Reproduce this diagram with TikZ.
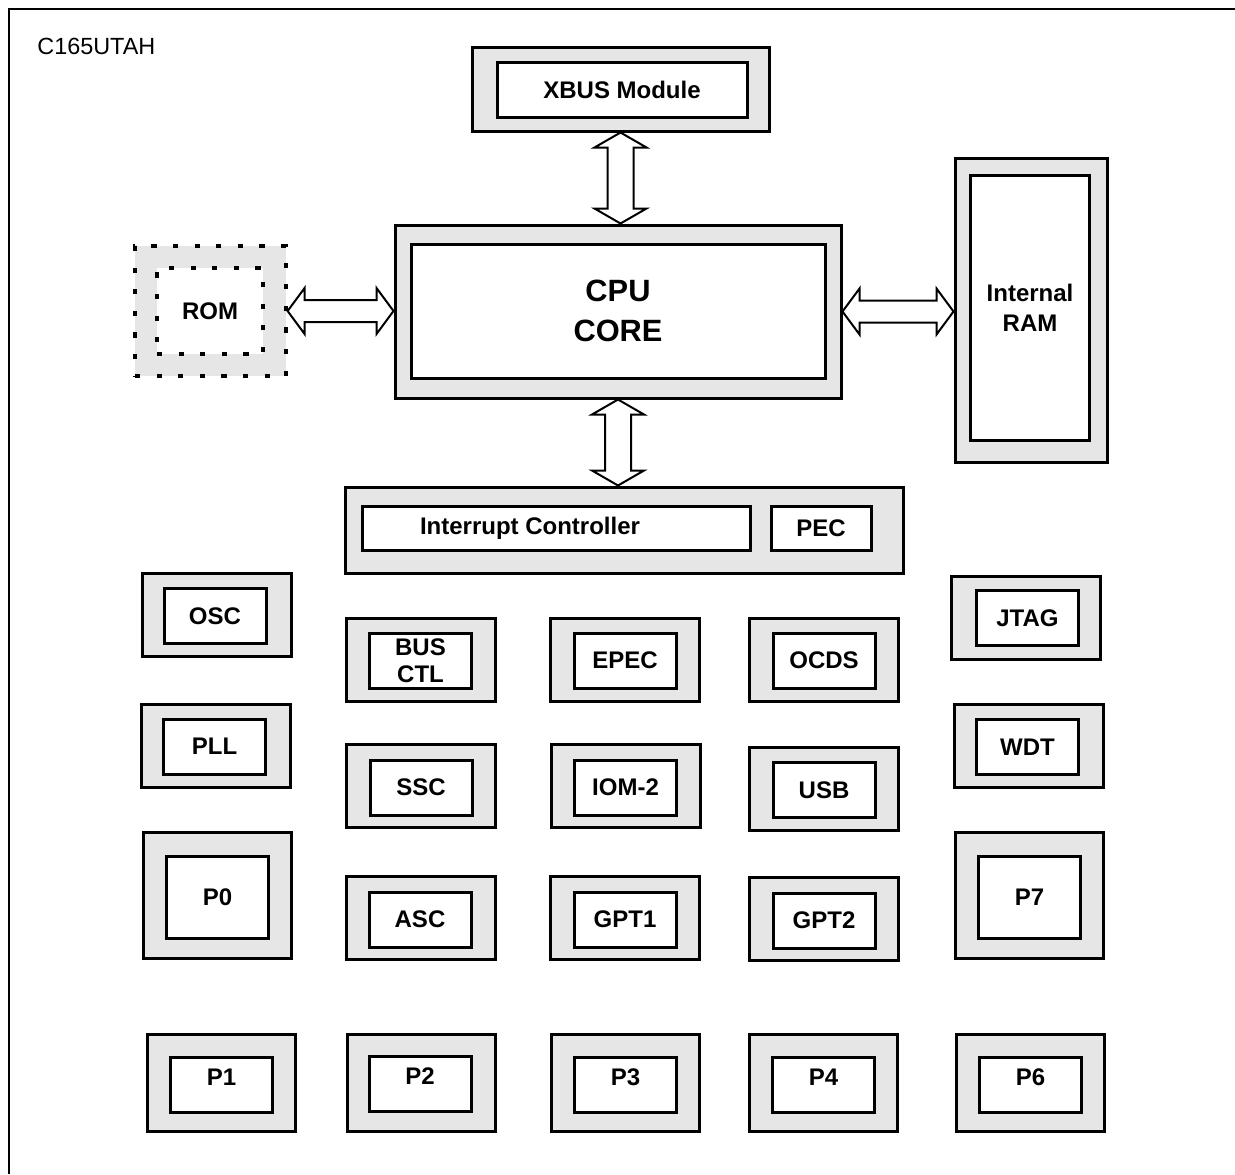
\documentclass[tikz,border=0pt]{standalone}
\usepackage{fontspec}
\setmainfont{Liberation Sans}
\usetikzlibrary{calc, shadows}
\definecolor{modgray}{RGB}{230,230,230}
\tikzset{
  outerbox/.style={rectangle, draw=black, line width=1.5pt, fill=modgray, inner sep=0pt,
    general shadow={fill=black, shadow xshift=0.7pt, shadow yshift=-0.7pt}},
  innerbox/.style={rectangle, draw=black, line width=1.5pt, fill=white, inner sep=0pt,
    align=center, minimum width=51pt, minimum height=27.5pt,
    font=\fontsize{12}{13.5}\selectfont\bfseries},
  modbox/.style={outerbox, minimum width=74.5pt, minimum height=41.5pt},
  portbox/.style={outerbox, minimum width=74pt, minimum height=48.5pt},
  tallbox/.style={outerbox, minimum width=74pt, minimum height=63pt},
  portlabel/.style={innerbox, text depth=8pt},
  dotbox/.style={rectangle, draw=black, line width=1.6pt, dash pattern=on 2.6pt off 8.2pt,
    inner sep=0pt, align=center, font=\fontsize{12}{13.5}\selectfont\bfseries},
  vbus/.style={draw=black, line width=1pt, fill=white, line join=miter, to path={
    let \p1=(\tikztostart), \p2=(\tikztotarget) in
    (\x1,\y1) -- (\x1-13pt,\y1-7.5pt) -- (\x1-6.5pt,\y1-7.5pt) -- (\x1-6.5pt,\y2+7.5pt)
    -- (\x1-13pt,\y2+7.5pt) -- (\x1,\y2) -- (\x1+13pt,\y2+7.5pt) -- (\x1+6.5pt,\y2+7.5pt)
    -- (\x1+6.5pt,\y1-7.5pt) -- (\x1+13pt,\y1-7.5pt) -- cycle}},
  hbus/.style={draw=black, line width=1pt, fill=white, line join=miter, to path={
    let \p1=(\tikztostart), \p2=(\tikztotarget) in
    (\x1,\y1) -- (\x1+8.5pt,\y1+11.5pt) -- (\x1+8.5pt,\y1+5.5pt) -- (\x2-8.5pt,\y1+5.5pt)
    -- (\x2-8.5pt,\y1+11.5pt) -- (\x2,\y1) -- (\x2-8.5pt,\y1-11.5pt) -- (\x2-8.5pt,\y1-5.5pt)
    -- (\x1+8.5pt,\y1-5.5pt) -- (\x1+8.5pt,\y1-11.5pt) -- cycle}},
}

\begin{document}
\begin{tikzpicture}[x=0.5pt, y=-0.5pt]
  \useasboundingbox (0,0) rectangle (1235,1174);
  \draw[line width=1.1pt] (9,1174) |- (1235,9);
  \node[anchor=base west, inner sep=0pt, font=\fontsize{11.7}{13}\selectfont] (title) at (37,54) {C165UTAH};

  % core, memories and bus
  \node[outerbox, minimum width=148.5pt, minimum height=42pt] (xbuso) at (620.5,89) {};
  \node[innerbox, minimum width=125pt] (xbus) at (622,89.5) {XBUS Module};
  \node[outerbox, minimum width=223pt, minimum height=86.5pt] (cpuo) at (618,311.5) {};
  \node[innerbox, minimum width=207pt, minimum height=67pt,
        font=\fontsize{15.4}{20}\selectfont\bfseries] (cpu) at (618,311) {CPU\\CORE};
  \node[dotbox, fill=modgray, minimum width=75.5pt, minimum height=65pt] (romo) at (210.5,311) {};
  \node[dotbox, fill=white, minimum width=53pt, minimum height=43pt] (rom) at (210,311) {ROM};
  \node[outerbox, minimum width=76pt, minimum height=152pt] (ramo) at (1031,310) {};
  \node[innerbox, minimum width=59.5pt, minimum height=132.5pt] (ram) at (1030,307.5) {Internal\\[1.5pt]RAM};
  \node[outerbox, minimum width=279pt, minimum height=43pt] (irqo) at (624,530) {};
  \node[innerbox, minimum width=194pt, minimum height=22pt,
        label={[xshift=-13pt, font=\fontsize{12}{13.5}\selectfont\bfseries]center:Interrupt Controller}] (irq) at (556,528) {};
  \node[innerbox, minimum width=50pt, minimum height=22pt] (pec) at (821,528) {PEC};

  % peripherals
  \node[modbox] (osco) at (217,615) {};
  \node[innerbox] (osc) at (215,616) {OSC};
  \node[modbox] (pllo) at (216,745.5) {};
  \node[innerbox] (pll) at (214.5,746.5) {PLL};
  \node[tallbox] (p0o) at (217.5,895.5) {};
  \node[innerbox, minimum height=41pt] (p0) at (217.5,897.5) {P0};
  \node[modbox] (busctlo) at (421,659.5) {};
  \node[innerbox] (busctl) at (420.5,660.5) {BUS\\CTL};
  \node[modbox] (epeco) at (625,659.5) {};
  \node[innerbox] (epec) at (625,660.5) {EPEC};
  \node[modbox] (ocdso) at (823.5,659.5) {};
  \node[innerbox] (ocds) at (824,660.5) {OCDS};
  \node[modbox] (ssco) at (421,785.5) {};
  \node[innerbox] (ssc) at (421,787.5) {SSC};
  \node[modbox] (iomo) at (625.5,785.5) {};
  \node[innerbox] (iom) at (625.5,787.5) {IOM-2};
  \node[modbox] (usbo) at (823.5,788.5) {};
  \node[innerbox] (usb) at (824,790) {USB};
  \node[modbox] (asco) at (421,917.5) {};
  \node[innerbox] (asc) at (420,919.5) {ASC};
  \node[modbox] (gptao) at (625,917.5) {};
  \node[innerbox] (gpta) at (625,919.5) {GPT1};
  \node[modbox] (gptbo) at (823.5,918.5) {};
  \node[innerbox] (gptb) at (824,920.5) {GPT2};
  \node[modbox] (jtago) at (1026,617.5) {};
  \node[innerbox] (jtag) at (1027.5,618) {JTAG};
  \node[modbox] (wdto) at (1028.5,745.5) {};
  \node[innerbox] (wdt) at (1027.5,747) {WDT};
  \node[tallbox] (p7o) at (1029.5,895.5) {};
  \node[innerbox, minimum height=41pt] (p7) at (1029.5,897.5) {P7};

  % ports
  \node[portbox] (p1o) at (221,1083) {};
  \node[portlabel] (p1) at (221.5,1085) {P1};
  \node[portbox] (p2o) at (421,1083) {};
  \node[portlabel] (p2) at (420,1084) {P2};
  \node[portbox] (p3o) at (625.5,1083) {};
  \node[portlabel] (p3) at (625.5,1085) {P3};
  \node[portbox] (p4o) at (823.5,1083) {};
  \node[portlabel] (p4) at (823.5,1085) {P4};
  \node[portbox] (p6o) at (1030.5,1083) {};
  \node[portlabel] (p6) at (1030.5,1085) {P6};

  % buses
  \draw[vbus] (xbuso.south) to (cpuo.north);
  \draw[vbus] (cpuo.south) to (irqo.north);
  \draw[hbus] (romo.east) to (cpuo.west);
  \draw[hbus] (cpuo.east) to (ramo.west);
\end{tikzpicture}
\end{document}
